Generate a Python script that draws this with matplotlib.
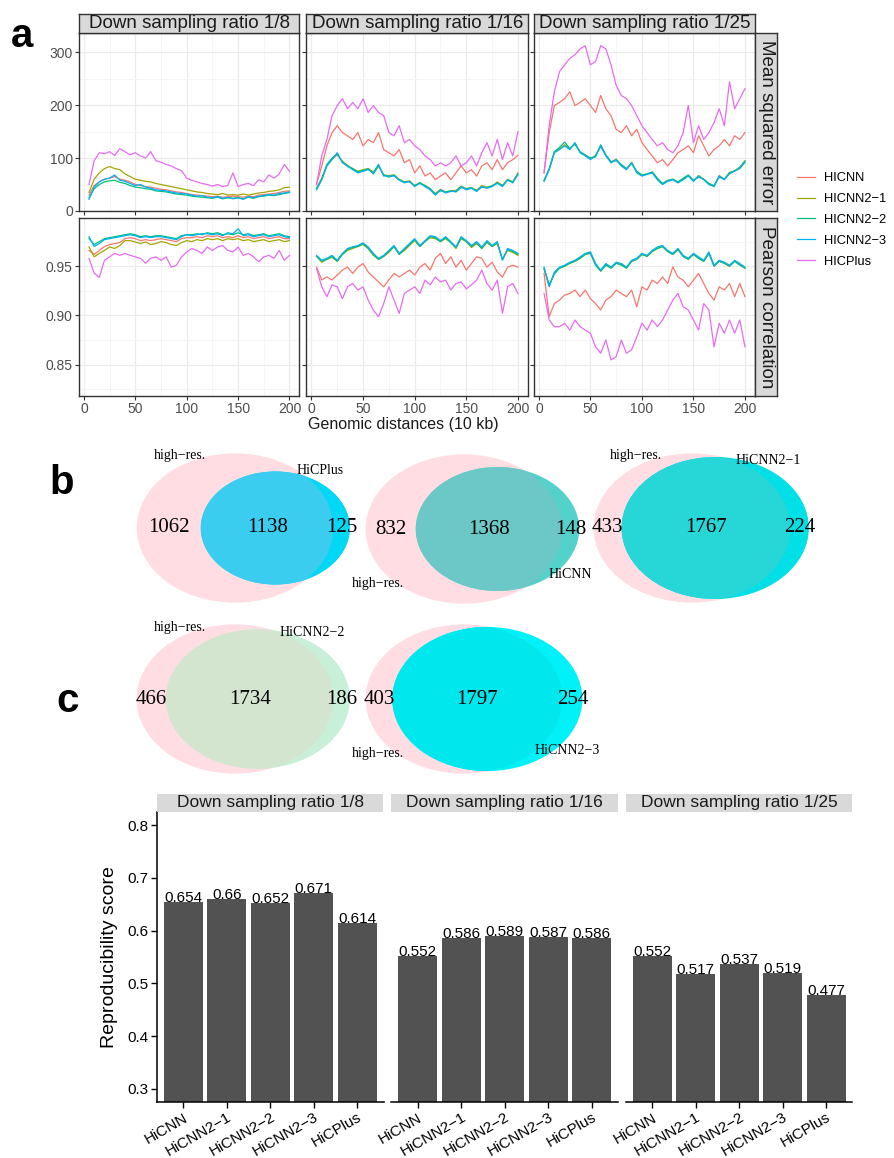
import numpy as np
import matplotlib
matplotlib.use("Agg")
import matplotlib.pyplot as plt
from matplotlib.patches import Ellipse

plt.rcParams['font.family'] = ['Liberation Sans', 'DejaVu Sans']

# ---------------- dados do painel a ----------------
distancias = list(range(5, 201, 5))
metodos = ['HICNN', 'HICNN2−1', 'HICNN2−2', 'HICNN2−3', 'HICPlus']
cores = ['#F8766D', '#A3A500', '#00BF7D', '#00B0F6', '#E76BF3']
razoes = ['Down sampling ratio 1/8', 'Down sampling ratio 1/16', 'Down sampling ratio 1/25']

# erro quadratico medio, razao 1/8
mse8_hicnn = [30, 48, 55, 60, 62, 65, 60, 58, 55, 50, 48, 46, 45, 43, 41, 40, 38, 36, 35, 33,
              31, 30, 29, 28, 27, 28, 26, 27, 28, 27, 26, 28, 27, 30, 31, 32, 33, 35, 37, 38]
mse8_n21 = [35, 60, 72, 80, 84, 80, 78, 70, 65, 60, 58, 56, 55, 52, 50, 48, 46, 44, 42, 40,
            38, 36, 35, 33, 32, 31, 33, 30, 31, 30, 32, 30, 32, 34, 35, 37, 38, 40, 44, 45]
mse8_n22 = [25, 42, 50, 55, 57, 58, 54, 52, 48, 45, 44, 42, 41, 38, 37, 36, 34, 32, 31, 30,
            28, 27, 26, 25, 24, 26, 23, 25, 24, 25, 23, 26, 24, 27, 28, 30, 29, 31, 33, 35]
mse8_n23 = [22, 45, 55, 60, 62, 68, 58, 56, 52, 48, 50, 45, 43, 40, 39, 38, 36, 34, 33, 32,
            30, 28, 29, 26, 25, 27, 24, 26, 23, 25, 22, 27, 25, 28, 29, 31, 30, 33, 34, 36]
mse8_plus = [50, 95, 110, 108, 112, 105, 118, 112, 106, 110, 104, 100, 112, 95, 92, 88, 85, 80, 76, 62,
             58, 55, 52, 50, 47, 50, 46, 48, 72, 46, 50, 52, 48, 59, 55, 68, 62, 70, 88, 75]

# razao 1/16
mse16_hicnn = [50, 85, 123, 148, 161, 148, 142, 135, 148, 123, 135, 129, 148, 116, 110, 104, 116, 91, 97, 72,
               85, 66, 72, 59, 66, 72, 59, 72, 85, 72, 78, 66, 85, 91, 78, 97, 78, 91, 97, 105]
mse16_n21 = [43, 62, 86, 98, 106, 94, 86, 80, 75, 78, 80, 74, 86, 68, 67, 68, 60, 55, 57, 48,
             54, 48, 42, 33, 41, 36, 38, 39, 47, 42, 44, 39, 48, 45, 47, 55, 48, 60, 55, 72]
mse16_n22 = [42, 60, 88, 100, 108, 93, 84, 80, 74, 76, 80, 70, 85, 68, 64, 68, 58, 55, 55, 48,
             52, 48, 42, 32, 38, 36, 38, 36, 44, 42, 44, 38, 45, 44, 48, 52, 48, 58, 55, 68]
mse16_n23 = [40, 59, 85, 97, 110, 91, 85, 78, 72, 75, 78, 72, 88, 66, 66, 66, 59, 53, 56, 46,
             53, 46, 40, 30, 40, 34, 37, 37, 46, 40, 43, 37, 46, 43, 46, 53, 46, 59, 53, 70]
mse16_plus = [50, 104, 135, 180, 199, 212, 193, 205, 193, 212, 186, 199, 186, 180, 148, 142, 161, 129, 135, 123,
              116, 104, 97, 85, 91, 85, 91, 104, 85, 91, 104, 85, 110, 129, 104, 135, 97, 129, 104, 150]

# razao 1/25
mse25_hicnn = [72, 148, 199, 205, 212, 225, 199, 205, 212, 199, 186, 218, 193, 180, 154, 148, 161, 142, 154, 129,
               116, 104, 91, 97, 85, 97, 110, 116, 123, 110, 142, 123, 104, 116, 123, 135, 123, 142, 135, 148]
mse25_n21 = [57, 79, 111, 117, 125, 117, 128, 111, 105, 99, 105, 122, 105, 92, 98, 86, 79, 92, 73, 67,
             70, 73, 60, 51, 57, 60, 54, 60, 67, 57, 67, 60, 51, 47, 67, 60, 73, 76, 83, 95]
mse25_n22 = [58, 80, 112, 120, 130, 118, 126, 112, 106, 100, 102, 125, 106, 93, 95, 88, 80, 90, 75, 68,
             70, 74, 62, 52, 58, 60, 55, 62, 68, 58, 64, 60, 52, 48, 64, 60, 70, 76, 80, 92]
mse25_n23 = [56, 78, 110, 116, 123, 116, 129, 110, 104, 97, 104, 123, 104, 91, 97, 85, 78, 91, 72, 66,
             69, 72, 59, 50, 56, 59, 53, 59, 66, 56, 66, 59, 50, 46, 66, 59, 72, 75, 82, 94]
mse25_plus = [72, 161, 225, 263, 276, 288, 295, 306, 312, 276, 282, 312, 306, 276, 237, 218, 212, 199, 180, 161,
              148, 135, 123, 129, 116, 110, 123, 148, 199, 129, 161, 135, 148, 167, 193, 161, 244, 193, 212, 231]

# correlacao de Pearson, razao 1/8
pc8_hicnn = [0.966, 0.962, 0.966, 0.970, 0.972, 0.973, 0.974, 0.978, 0.979, 0.978,
             0.976, 0.977, 0.976, 0.977, 0.978, 0.977, 0.976, 0.975, 0.978, 0.979,
             0.979, 0.980, 0.979, 0.981, 0.980, 0.981, 0.979, 0.980, 0.979, 0.981,
             0.979, 0.980, 0.978, 0.979, 0.980, 0.978, 0.979, 0.980, 0.978, 0.978]
pc8_n21 = [0.9696, 0.9595, 0.963, 0.966, 0.9696, 0.968, 0.971, 0.976, 0.976, 0.9747,
           0.973, 0.9747, 0.972, 0.973, 0.975, 0.974, 0.972, 0.971, 0.974, 0.976,
           0.975, 0.977, 0.976, 0.978, 0.977, 0.978, 0.976, 0.978, 0.977, 0.978,
           0.976, 0.977, 0.975, 0.976, 0.977, 0.975, 0.976, 0.977, 0.975, 0.976]
pc8_n22 = [0.978, 0.972, 0.975, 0.978, 0.979, 0.980, 0.981, 0.982, 0.983, 0.982,
           0.980, 0.981, 0.980, 0.981, 0.981, 0.980, 0.979, 0.978, 0.981, 0.982,
           0.982, 0.983, 0.982, 0.984, 0.983, 0.984, 0.982, 0.983, 0.982, 0.984,
           0.982, 0.983, 0.981, 0.982, 0.983, 0.981, 0.982, 0.983, 0.981, 0.980]
pc8_n23 = [0.980, 0.970, 0.973, 0.977, 0.978, 0.979, 0.980, 0.981, 0.982, 0.981,
           0.979, 0.980, 0.979, 0.980, 0.980, 0.979, 0.978, 0.977, 0.980, 0.982,
           0.981, 0.982, 0.983, 0.983, 0.982, 0.983, 0.981, 0.984, 0.983, 0.988,
           0.981, 0.982, 0.980, 0.981, 0.982, 0.980, 0.981, 0.982, 0.980, 0.979]
pc8_plus = [0.958, 0.943, 0.9385, 0.956, 0.9595, 0.963, 0.961, 0.963, 0.961, 0.9595,
            0.958, 0.953, 0.958, 0.9595, 0.956, 0.9595, 0.949, 0.951, 0.9595, 0.9645,
            0.968, 0.966, 0.963, 0.9695, 0.966, 0.9695, 0.971, 0.966, 0.9645, 0.9695,
            0.961, 0.963, 0.9595, 0.9545, 0.9595, 0.961, 0.958, 0.966, 0.956, 0.961]

# razao 1/16
pc16_hicnn = [0.949, 0.936, 0.939, 0.936, 0.941, 0.946, 0.949, 0.9426, 0.949, 0.9527,
              0.944, 0.939, 0.934, 0.929, 0.936, 0.9426, 0.939, 0.9426, 0.946, 0.941,
              0.949, 0.9527, 0.946, 0.958, 0.963, 0.9527, 0.9595, 0.949, 0.956, 0.946,
              0.9527, 0.9595, 0.958, 0.949, 0.954, 0.944, 0.939, 0.949, 0.951, 0.949]
pc16_n21 = [0.960, 0.954, 0.957, 0.959, 0.955, 0.962, 0.966, 0.968, 0.970, 0.972,
            0.968, 0.961, 0.957, 0.960, 0.964, 0.970, 0.962, 0.966, 0.971, 0.976,
            0.970, 0.975, 0.979, 0.978, 0.975, 0.978, 0.974, 0.968, 0.978, 0.975,
            0.969, 0.973, 0.968, 0.974, 0.970, 0.973, 0.957, 0.966, 0.964, 0.961]
pc16_n22 = [0.960, 0.955, 0.957, 0.960, 0.955, 0.962, 0.967, 0.969, 0.970, 0.973,
            0.968, 0.962, 0.957, 0.960, 0.965, 0.970, 0.962, 0.967, 0.972, 0.977,
            0.970, 0.975, 0.980, 0.979, 0.975, 0.979, 0.974, 0.969, 0.979, 0.975,
            0.970, 0.974, 0.968, 0.975, 0.970, 0.974, 0.957, 0.967, 0.965, 0.962]
pc16_n23 = [0.961, 0.956, 0.958, 0.961, 0.956, 0.963, 0.968, 0.9696, 0.971, 0.9737,
            0.9696, 0.963, 0.958, 0.961, 0.966, 0.971, 0.963, 0.968, 0.973, 0.978,
            0.971, 0.976, 0.981, 0.980, 0.976, 0.980, 0.975, 0.9696, 0.980, 0.976,
            0.971, 0.975, 0.9696, 0.976, 0.971, 0.975, 0.956, 0.968, 0.966, 0.963]
pc16_plus = [0.9476, 0.929, 0.919, 0.931, 0.929, 0.917, 0.929, 0.9324, 0.9257, 0.929,
             0.9155, 0.9054, 0.8986, 0.912, 0.929, 0.9155, 0.902, 0.9223, 0.9257, 0.929,
             0.9223, 0.9358, 0.931, 0.939, 0.934, 0.9358, 0.9257, 0.9324, 0.934, 0.927,
             0.931, 0.9358, 0.946, 0.9324, 0.9257, 0.9358, 0.902, 0.929, 0.9324, 0.9223]

# razao 1/25
pc25_hicnn = [0.9426, 0.8986, 0.912, 0.9155, 0.9206, 0.9223, 0.9257, 0.919, 0.9257, 0.917,
              0.912, 0.9054, 0.9155, 0.919, 0.9257, 0.9223, 0.919, 0.9257, 0.9088, 0.929,
              0.9257, 0.9358, 0.9324, 0.939, 0.9324, 0.9493, 0.939, 0.9358, 0.929, 0.9358,
              0.9426, 0.9324, 0.9223, 0.9155, 0.929, 0.9257, 0.9324, 0.919, 0.9324, 0.919]
pc25_n21 = [0.947, 0.930, 0.943, 0.948, 0.950, 0.953, 0.955, 0.958, 0.962, 0.964,
            0.952, 0.945, 0.952, 0.948, 0.953, 0.952, 0.948, 0.955, 0.957, 0.962,
            0.960, 0.965, 0.968, 0.970, 0.965, 0.962, 0.967, 0.960, 0.957, 0.962,
            0.958, 0.955, 0.963, 0.950, 0.955, 0.953, 0.950, 0.955, 0.952, 0.948]
pc25_n22 = [0.948, 0.931, 0.942, 0.948, 0.950, 0.953, 0.955, 0.958, 0.962, 0.963,
            0.951, 0.945, 0.951, 0.948, 0.953, 0.951, 0.948, 0.955, 0.957, 0.962,
            0.960, 0.965, 0.968, 0.970, 0.965, 0.962, 0.967, 0.960, 0.957, 0.962,
            0.958, 0.955, 0.963, 0.950, 0.955, 0.953, 0.950, 0.955, 0.951, 0.948]
pc25_n23 = [0.949, 0.929, 0.944, 0.949, 0.951, 0.954, 0.956, 0.9595, 0.963, 0.9645,
            0.9527, 0.946, 0.9527, 0.949, 0.954, 0.9527, 0.949, 0.956, 0.958, 0.963,
            0.961, 0.966, 0.9696, 0.971, 0.966, 0.963, 0.968, 0.961, 0.958, 0.963,
            0.9595, 0.956, 0.9645, 0.951, 0.956, 0.954, 0.951, 0.956, 0.9527, 0.949]
pc25_plus = [0.9223, 0.8953, 0.8885, 0.8885, 0.892, 0.885, 0.8953, 0.8885, 0.885, 0.8818,
             0.868, 0.8615, 0.875, 0.8547, 0.858, 0.875, 0.8615, 0.865, 0.878, 0.892,
             0.885, 0.8953, 0.8885, 0.8953, 0.9054, 0.9155, 0.9223, 0.9088, 0.9054, 0.8953,
             0.885, 0.912, 0.9054, 0.868, 0.892, 0.8818, 0.8953, 0.8818, 0.8953, 0.868]

mse = [[mse8_hicnn, mse8_n21, mse8_n22, mse8_n23, mse8_plus],
       [mse16_hicnn, mse16_n21, mse16_n22, mse16_n23, mse16_plus],
       [mse25_hicnn, mse25_n21, mse25_n22, mse25_n23, mse25_plus]]
pearson = [[pc8_hicnn, pc8_n21, pc8_n22, pc8_n23, pc8_plus],
           [pc16_hicnn, pc16_n21, pc16_n22, pc16_n23, pc16_plus],
           [pc25_hicnn, pc25_n21, pc25_n22, pc25_n23, pc25_plus]]

# ---------------- dados do painel b (diagramas de Venn) ----------------
venn_nomes = ['HiCPlus', 'HiCNN', 'HiCNN2−1', 'HiCNN2−2', 'HiCNN2−3']
venn_so_highres = [1062, 832, 433, 466, 403]
venn_ambos = [1138, 1368, 1767, 1734, 1797]
venn_so_metodo = [125, 148, 224, 186, 254]
venn_cor_fora = ['#00D8F5', '#52D2CB', '#00E0E6', '#C8F0D8', '#00F2F8']
venn_cor_dentro = ['#3BCDF0', '#6CC8C6', '#27D7D7', '#D3E5CF', '#00E8EE']

# ---------------- dados do painel c ----------------
categorias = ['HiCNN', 'HiCNN2−1', 'HiCNN2−2', 'HiCNN2−3', 'HiCPlus']
repro_8 = [0.654, 0.66, 0.652, 0.671, 0.614]
repro_16 = [0.552, 0.586, 0.589, 0.587, 0.586]
repro_25 = [0.552, 0.517, 0.537, 0.519, 0.477]

W, H = 895, 1158
fig = plt.figure(figsize=(W / 100, H / 100), dpi=100)


def caixa(esq, topo, dir, base):
    # converte um retangulo em pixels para coordenadas da figura
    return [esq / W, 1 - base / H, (dir - esq) / W, (base - topo) / H]


def faixa(ret, texto, rot=0, borda=True, tam=13.5):
    s = fig.add_axes(caixa(*ret))
    s.set_facecolor('#D9D9D9')
    s.set_xticks([])
    s.set_yticks([])
    for sp in s.spines.values():
        sp.set_visible(borda)
        sp.set_color('#333333')
        sp.set_linewidth(1.0)
    s.text(0.5, 0.5, texto, rotation=rot, ha='center', va='center',
           fontsize=tam, color='#1A1A1A', transform=s.transAxes)
    return s


# ---------------- painel b: fundo com coordenadas em pixels ----------------
ax_b = fig.add_axes([0, 0, 1, 1])
ax_b.set_xlim(0, W)
ax_b.set_ylim(H, 0)
ax_b.axis('off')


def area_lente(r1, r2, d):
    if d >= r1 + r2:
        return 0.0
    if d <= abs(r1 - r2):
        return np.pi * min(r1, r2) ** 2
    a1 = r1 ** 2 * np.arccos((d * d + r1 * r1 - r2 * r2) / (2 * d * r1))
    a2 = r2 ** 2 * np.arccos((d * d + r2 * r2 - r1 * r1) / (2 * d * r2))
    a3 = 0.5 * np.sqrt((-d + r1 + r2) * (d + r1 - r2) * (d - r1 + r2) * (d + r1 + r2))
    return a1 + a2 - a3


venn_centros = [(235, 528), (464, 529), (692, 528), (235, 699), (464, 699)]
venn_rot_high = [(180, 456), (378, 583), (636, 456), (180, 627), (378, 753)]
venn_rot_met = [(320, 471), (570, 574), (768, 460), (312, 632), (567, 751)]
esc_x, esc_y = 3.72, 2.82   # pixels por unidade (diagrama achatado)

for k in range(5):
    na = venn_so_highres[k] + venn_ambos[k]
    nb = venn_ambos[k] + venn_so_metodo[k]
    ra, rb = np.sqrt(na / np.pi), np.sqrt(nb / np.pi)
    lo, hi = abs(ra - rb), ra + rb
    for _ in range(60):
        meio = (lo + hi) / 2
        if area_lente(ra, rb, meio) > venn_ambos[k]:
            lo = meio
        else:
            hi = meio
    d = (lo + hi) / 2
    cx, cy = venn_centros[k]
    cx2 = cx + d * esc_x
    rosa = Ellipse((cx, cy), 2 * ra * esc_x, 2 * ra * esc_y, color='#FFDDE3', lw=0)
    ax_b.add_patch(rosa)
    ax_b.add_patch(Ellipse((cx2, cy), 2 * rb * esc_x, 2 * rb * esc_y,
                           color=venn_cor_fora[k], lw=0))
    dentro = Ellipse((cx2, cy), 2 * rb * esc_x, 2 * rb * esc_y,
                     color=venn_cor_dentro[k], lw=0)
    ax_b.add_patch(dentro)
    dentro.set_clip_path(rosa)
    a_esq, a_dir = cx - ra * esc_x, cx + ra * esc_x
    b_esq, b_dir = cx2 - rb * esc_x, cx2 + rb * esc_x
    num = dict(fontsize=15, family='Liberation Serif', ha='center', va='center')
    ax_b.text((a_esq + b_esq) / 2, cy, str(venn_so_highres[k]), **num)
    ax_b.text((b_esq + a_dir) / 2, cy, str(venn_ambos[k]), **num)
    ax_b.text((a_dir + b_dir) / 2, cy, str(venn_so_metodo[k]), **num)
    rot = dict(fontsize=10, family='Liberation Serif', ha='center', va='center')
    ax_b.text(*venn_rot_high[k], 'high−res.', **rot)
    ax_b.text(*venn_rot_met[k], venn_nomes[k], **rot)

# ---------------- painel a ----------------
cols_a = [(79, 299.5), (306.5, 528), (534, 755)]
linhas_a = [(33, 211), (218, 396)]
handles = None
for i, dados in enumerate([mse, pearson]):
    for j in range(3):
        ax = fig.add_axes(caixa(cols_a[j][0], linhas_a[i][0], cols_a[j][1], linhas_a[i][1]))
        linhas = []
        for m in range(5):
            ln, = ax.plot(distancias, dados[j][m], color=cores[m], lw=0.9)
            linhas.append(ln)
        if handles is None:
            handles = linhas
        ax.set_xlim(-4.75, 209.75)
        ax.set_xticks([0, 50, 100, 150, 200])
        ax.set_xticks([25, 75, 125, 175], minor=True)
        if i == 0:
            ax.set_ylim(0, 336)
            ax.set_yticks([0, 100, 200, 300])
            ax.set_yticks([50, 150, 250], minor=True)
        else:
            ax.set_ylim(0.818, 0.999)
            ax.set_yticks([0.85, 0.90, 0.95])
            ax.set_yticklabels(['0.85', '0.90', '0.95'])
            ax.set_yticks([0.825, 0.875, 0.925, 0.975], minor=True)
        ax.grid(which='major', color='#EBEBEB', lw=0.9)
        ax.grid(which='minor', color='#F4F4F4', lw=0.6)
        ax.set_axisbelow(True)
        for sp in ax.spines.values():
            sp.set_color('#333333')
            sp.set_linewidth(1.0)
        ax.tick_params(which='major', length=3, color='#333333', labelsize=10,
                       labelcolor='#4D4D4D', pad=1.5)
        ax.tick_params(which='minor', length=0)
        if j > 0:
            ax.tick_params(labelleft=False)
        if i == 0:
            ax.tick_params(labelbottom=False)

for j in range(3):
    faixa((cols_a[j][0], 14, cols_a[j][1], 33), razoes[j])
faixa((755, 33, 777, 211), 'Mean squared error', rot=-90)
faixa((755, 218, 777, 396), 'Pearson correlation', rot=-90)

fig.text(403 / W, 1 - 425 / H, 'Genomic distances (10 kb)', ha='center', va='center',
         fontsize=11.5, color='#1A1A1A')
fig.legend(handles, metodos, loc='center left', bbox_to_anchor=(792 / W, 1 - 220 / H),
           frameon=False, fontsize=9.3, handlelength=1.35, handletextpad=0.7,
           labelspacing=0.68, borderaxespad=0)

# ---------------- painel c ----------------
cols_c = [(157, 383.5), (391.5, 618), (626, 852.5)]
for j, valores in enumerate([repro_8, repro_16, repro_25]):
    ax = fig.add_axes(caixa(cols_c[j][0], 812, cols_c[j][1], 1102))
    pos = np.arange(len(categorias))
    ax.bar(pos, valores, width=0.9, color='#525252')
    for p, v in zip(pos, valores):
        ax.text(p, v, format(v, 'g'), ha='center', va='baseline', fontsize=11)
    ax.set_xlim(-0.6, 4.6)
    ax.set_ylim(0.275, 0.825)
    ax.set_xticks(pos)
    ax.set_xticklabels(categorias, rotation=30, ha='right', rotation_mode='anchor')
    ax.spines['top'].set_visible(False)
    ax.spines['right'].set_visible(False)
    ax.spines['bottom'].set_linewidth(1.1)
    ax.spines['left'].set_linewidth(1.1)
    ax.tick_params(axis='both', length=4, width=1, labelsize=11, labelcolor='black', pad=2)
    ax.set_yticks([0.3, 0.4, 0.5, 0.6, 0.7, 0.8])
    if j > 0:
        ax.spines['left'].set_visible(False)
        ax.tick_params(axis='y', left=False, labelleft=False)
    faixa((cols_c[j][0], 794, cols_c[j][1], 812), razoes[j], borda=False, tam=12.5)

fig.text(110 / W, 1 - 957 / H, 'Reproducibility score', rotation=90, ha='center',
         va='center', fontsize=14)

# letras dos paineis
for letra, x, y in [('a', 22, 47), ('b', 62, 494), ('c', 68, 712)]:
    fig.text(x / W, 1 - y / H, letra, fontsize=29, fontweight='bold', ha='center',
             va='baseline')

fig.savefig('out.png', dpi=100)
